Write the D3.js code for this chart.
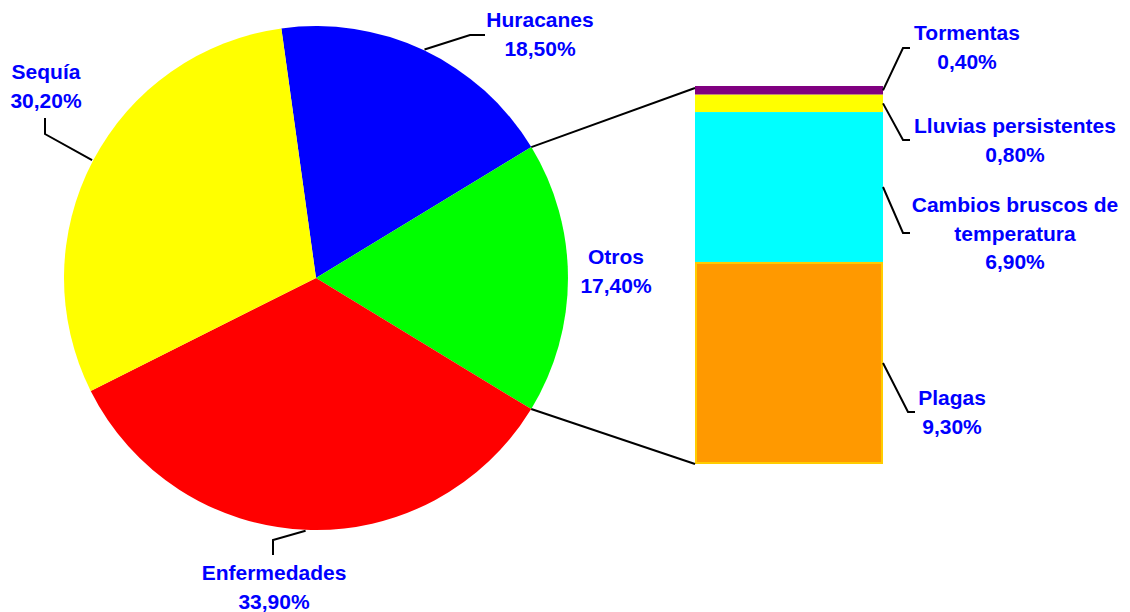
<!DOCTYPE html>
<html><head><meta charset="utf-8">
<script src="https://cdn.jsdelivr.net/npm/d3@7"></script>
<style>body{margin:0;background:#fff}svg{display:block}text{font-family:"Liberation Sans",Arial,sans-serif;font-weight:bold;font-size:21px;fill:#0000FF}</style>
</head><body><svg id="c" width="1130" height="612"></svg>
<script>
// Pie data
const pieCategories = ["Huracanes","Otros","Enfermedades","Sequía"];
const pieValues = [18.5, 17.4, 33.9, 30.2];
const pieLabels = ["18,50%","17,40%","33,90%","30,20%"];
const pieColors = ["#0000FF","#00FF00","#FF0000","#FFFF00"];
// Bar (breakdown of "Otros")
const barCategories = ["Tormentas","Lluvias persistentes","Cambios bruscos de temperatura","Plagas"];
const barValues = [0.4, 0.8, 6.9, 9.3];
const barLabels = ["0,40%","0,80%","6,90%","9,30%"];
const barColors = ["#800080","#FFFF00","#00FFFF","#FF9900"];
const barStrokes = ["#800080","#FFFF00","#00FFFF","#FFCC00"];

const svg = d3.select("#c");
const cx = 316, cy = 278, R = 252;
const start = -7.9 * Math.PI / 180;
const pie = d3.pie().sort(null).startAngle(start).endAngle(start + 2*Math.PI);
const arcs = pie(pieValues);
const arc = d3.arc().innerRadius(0).outerRadius(R);
const g = svg.append("g").attr("transform", `translate(${cx},${cy})`);
g.selectAll("path").data(arcs).join("path").attr("d", arc).attr("fill", (d,i)=>pieColors[i]);

const pt = (a, r) => [cx + r*Math.sin(a), cy - r*Math.cos(a)];

// Bar
const total = d3.sum(barValues);
const y = d3.scaleLinear().domain([0, total]).range([86, 464]);
const x = d3.scaleLinear().domain([0,1]).range([695, 883]);
let cum = 0;
const stack = barValues.map((v,i)=>{const s=cum; cum+=v; return {i, y0:s, y1:cum};});
svg.selectAll("rect.bar").data(stack).join("rect").attr("class","bar")
  .attr("x", x(0)+1).attr("width", x(1)-x(0)-2)
  .attr("y", d=>y(d.y0)+1).attr("height", d=>Math.max(0,y(d.y1)-y(d.y0)-2))
  .attr("fill", d=>barColors[d.i]).attr("stroke", d=>barStrokes[d.i]).attr("stroke-width",2);

// Connector lines from "Otros" slice to bar
const otros = arcs[1];
const p1 = pt(otros.startAngle, R), p2 = pt(otros.endAngle, R);
const line = d3.line();
svg.append("path").attr("d", line([p1,[x(0), y(0)+2]])).attr("stroke","#000").attr("stroke-width",2).attr("fill","none");
svg.append("path").attr("d", line([p2,[x(0), y(total)]])).attr("stroke","#000").attr("stroke-width",2).attr("fill","none");

// Pie labels & leaders (layout)
const pieLayout = [
  {tx:540, ty:27, elbow:[[470,35],[485,35]]},
  {tx:616, ty:264, elbow:null},
  {tx:274, ty:580, elbow:[[273,540],[273,555]]},
  {tx:46, ty:79, elbow:[[45,134],[45,118]]}
];
const lh = 28.5;
arcs.forEach((d,i)=>{
  const L = pieLayout[i];
  if (L.elbow) {
    const m = (d.startAngle+d.endAngle)/2;
    svg.append("path").attr("d", line([pt(m, R+1), ...L.elbow])).attr("stroke","#000").attr("stroke-width",2).attr("fill","none");
  }
  const t = svg.append("text").attr("text-anchor","middle").attr("x",L.tx).attr("y",L.ty);
  t.append("tspan").attr("x",L.tx).text(pieCategories[i]);
  t.append("tspan").attr("x",L.tx).attr("dy",lh).text(pieLabels[i]);
});

// Bar labels
const barLayout = [
  {tx:967, ty:40, lines:["Tormentas"], elbow:[[903,48],[910,48]]},
  {tx:1015, ty:133, lines:["Lluvias persistentes"], elbow:[[903,140],[910,140]]},
  {tx:1015, ty:212, lines:["Cambios bruscos de","temperatura"], elbow:[[903,233],[910,233]]},
  {tx:952, ty:405, lines:["Plagas"], elbow:[[908,412],[915,412]]}
];
stack.forEach((d,i)=>{
  const L = barLayout[i];
  const sy = (y(d.y0)+y(d.y1))/2;
  svg.append("path").attr("d", line([[x(1), sy], ...L.elbow])).attr("stroke","#000").attr("stroke-width",2).attr("fill","none");
  const t = svg.append("text").attr("text-anchor","middle").attr("x",L.tx).attr("y",L.ty);
  L.lines.forEach((s,k)=>t.append("tspan").attr("x",L.tx).attr("dy",k?lh:0).text(s));
  t.append("tspan").attr("x",L.tx).attr("dy",lh).text(barLabels[i]);
});
</script></body></html>
